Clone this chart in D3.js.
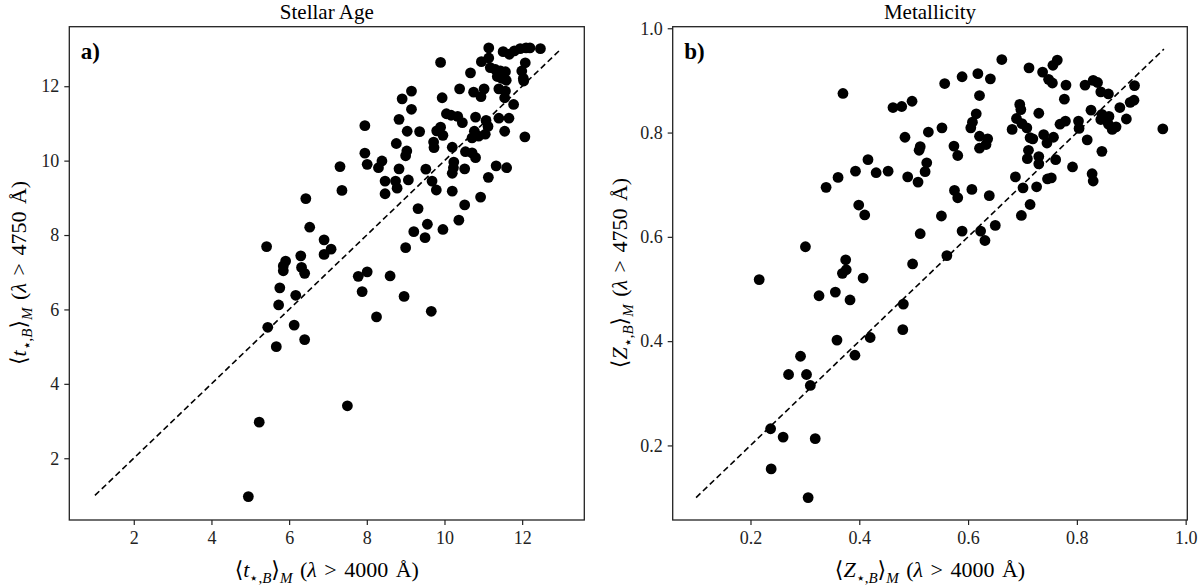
<!DOCTYPE html>
<html>
<head>
<meta charset="utf-8">
<script src="https://cdn.jsdelivr.net/npm/d3@7"></script>
<style>
  body { margin: 0; background: #fff; }
  text { font-family: "Liberation Serif", "DejaVu Serif", serif; }
</style>
</head>
<body>
<div id="wrapper"></div>
<script>
// stellar age, read off panel a)
const ageX = [4.95,5.23,7.50,5.67,6.40,5.45,6.13,8.25,9.66,5.73,8.96,6.17,7.88,5.76,7.78,8.60,6.40,8.01,5.85,6.32,
  5.85,5.91,6.30,6.90,7.08,9.00,5.42,6.90,9.50,9.21,9.96,6.53,9.56,10.37,9.32,10.52,6.43,10.93,8.47,10.20,
  7.36,9.79,8.78,8.47,8.74,9.68,9.07,11.13,10.20,9.52,8.83,10.52,8.30,10.23,11.60,7.31,11.33,8.01,10.24,8.39,
  10.80,9.00,7.95,10.71,10.54,9.03,9.73,10.20,8.76,9.72,10.71,12.07,10.88,9.96,11.05,9.36,9.04,9.80,10.77,11.55,
  9.90,11.12,7.95,10.46,11.07,8.83,11.40,11.66,10.80,10.34,10.17,10.05,9.15,11.78,8.91,9.94,11.55,10.94,10.75,11.57,
  9.15,10.39,11.02,11.40,12.04,11.59,11.48,12.03,11.36,10.67,11.57,11.44,11.99,11.31,11.18,9.90,12.08,10.95,11.14,11.51,
  11.67,11.80,11.95,12.10,12.20,12.47,11.14];
const ageY = [0.97,2.97,3.41,5.00,5.19,5.52,5.58,5.80,5.95,6.12,6.35,6.38,6.48,6.58,6.89,6.90,6.97,7.01,7.04,7.13,
  7.17,7.30,7.44,7.48,7.62,7.66,7.69,7.87,7.93,8.09,8.15,8.21,8.29,8.40,8.71,8.81,8.98,9.02,9.11,9.18,
  9.20,9.21,9.26,9.45,9.45,9.45,9.48,9.55,9.66,9.77,9.78,9.78,9.81,9.81,9.81,9.84,9.86,9.90,9.96,9.99,
  10.08,10.13,10.20,10.21,10.24,10.26,10.35,10.36,10.46,10.50,10.61,10.64,10.66,10.68,10.71,10.78,10.79,10.80,10.79,10.79,
  10.90,10.92,10.94,11.02,11.08,11.11,11.14,11.14,11.17,11.19,11.22,11.26,11.38,11.51,11.66,11.69,11.69,11.72,11.84,11.87,
  11.87,11.93,11.93,11.93,12.14,12.16,12.21,12.21,12.26,12.36,12.39,12.41,12.41,12.45,12.50,12.64,12.63,12.66,12.76,12.93,
  12.86,12.95,13.01,13.03,13.03,13.01,13.03];

// metallicity, read off panel b)
const metX = [0.306,0.238,0.319,0.260,0.237,0.310,0.270,0.303,0.292,0.392,0.359,0.420,0.480,0.481,0.383,0.326,0.356,0.216,0.407,0.369,
  0.376,0.498,0.375,0.561,0.301,0.631,0.512,0.589,0.623,0.650,0.551,0.698,0.410,0.399,0.714,0.581,0.639,0.575,0.607,0.701,
  0.339,0.726,0.508,0.830,0.746,0.753,0.361,0.489,0.687,0.828,0.431,0.521,0.393,0.453,0.792,0.730,0.524,0.416,0.761,0.709,
  0.730,0.581,0.846,0.510,0.711,0.621,0.512,0.574,0.633,0.745,0.819,0.636,0.719,0.714,0.757,0.484,0.621,0.739,0.527,0.681,
  0.865,0.958,0.804,0.552,0.605,0.708,0.872,0.699,0.858,0.779,0.803,0.608,0.769,0.844,0.891,0.689,0.859,0.846,0.615,0.730,
  0.826,0.697,0.879,0.462,0.478,0.695,0.898,0.497,0.905,0.777,0.621,0.370,0.858,0.844,0.906,0.780,0.815,0.755,0.557,0.838,
  0.830,0.748,0.641,0.589,0.618,0.737,0.712,0.756,0.764,0.662];
const metY = [0.100,0.155,0.213,0.216,0.232,0.315,0.336,0.336,0.371,0.373,0.402,0.407,0.422,0.471,0.479,0.487,0.494,0.518,0.521,0.530,
  0.537,0.548,0.556,0.564,0.581,0.593,0.606,0.611,0.611,0.622,0.640,0.641,0.642,0.661,0.662,0.675,0.679,0.689,0.691,0.694,
  0.695,0.696,0.705,0.707,0.711,0.713,0.714,0.715,0.715,0.721,0.723,0.725,0.726,0.726,0.734,0.740,0.742,0.748,0.748,0.750,
  0.754,0.756,0.764,0.766,0.766,0.770,0.773,0.774,0.777,0.780,0.786,0.788,0.788,0.790,0.791,0.791,0.793,0.796,0.801,0.806,
  0.806,0.807,0.808,0.809,0.809,0.809,0.811,0.817,0.816,0.822,0.822,0.820,0.816,0.825,0.826,0.827,0.831,0.835,0.836,0.837,
  0.843,0.844,0.848,0.848,0.850,0.854,0.858,0.860,0.862,0.864,0.871,0.875,0.874,0.878,0.890,0.891,0.891,0.895,0.894,0.896,
  0.900,0.902,0.903,0.907,0.913,0.916,0.924,0.929,0.939,0.940];

const ageTicks = [2, 4, 6, 8, 10, 12];
const metTicks = [0.2, 0.4, 0.6, 0.8, 1.0];
const ageLine = [1, 13];
const metLine = [0.1, 0.96];

const svg = d3.select("#wrapper").append("svg")
    .attr("width", 1200)
    .attr("height", 587);

function mathLabel(sel, v, wl) {
    sel.append("tspan").text("\u27E8");
    sel.append("tspan").style("font-style", "italic").text(v);
    sel.append("tspan").attr("dy", 6).style("font-size", "15px").text("\u22C6,");
    sel.append("tspan").style("font-size", "15px").style("font-style", "italic").text("B");
    sel.append("tspan").attr("dy", -6).text("\u27E9");
    sel.append("tspan").attr("dy", 6).style("font-size", "15px").style("font-style", "italic").text("M");
    sel.append("tspan").attr("dy", -6).text(" (");
    sel.append("tspan").style("font-style", "italic").text("\u03BB");
    sel.append("tspan").text(" > " + wl + " \u00C5)");
}

function buildPanel(opt) {
    const x = d3.scaleLinear().domain(opt.domain).range([opt.left, opt.right]);
    const y = d3.scaleLinear().domain(opt.domain).range([520, 26.7]);
    const g = svg.append("g");

    // diagonal one-to-one line
    g.append("path")
        .attr("d", d3.line().x(d => x(d)).y(d => y(d))(opt.line))
        .attr("fill", "none")
        .attr("stroke", "black")
        .attr("stroke-width", 1.6)
        .attr("stroke-dasharray", "6,3.5");

    g.append("g").selectAll("circle")
        .data(opt.xs)
        .join("circle")
        .attr("cx", d => x(d))
        .attr("cy", (d, i) => y(opt.ys[i]))
        .attr("r", 5.4)
        .attr("fill", "black");

    const xAxis = d3.axisBottom(x).tickValues(opt.ticks).tickSize(5).tickPadding(6).tickFormat(opt.fmt);
    const yAxis = d3.axisLeft(y).tickValues(opt.ticks).tickSize(5).tickPadding(5).tickFormat(opt.fmt);

    const gx = g.append("g").attr("transform", "translate(0,520)").call(xAxis);
    const gy = g.append("g").attr("transform", `translate(${opt.left},0)`).call(yAxis);
    [gx, gy].forEach(a => {
        a.select(".domain").remove();
        a.selectAll("line").attr("stroke", "#222").attr("stroke-width", 1.2);
        a.selectAll("text")
            .style("font-family", "Liberation Serif")
            .style("font-size", "18px")
            .attr("fill", "#222");
    });

    g.append("rect")
        .attr("x", opt.left)
        .attr("y", 26.7)
        .attr("width", opt.right - opt.left)
        .attr("height", 520 - 26.7)
        .attr("fill", "none")
        .attr("stroke", "#222")
        .attr("stroke-width", 1.3);

    const cx = (opt.left + opt.right) / 2;
    g.append("text")
        .attr("x", cx)
        .attr("y", 19)
        .attr("text-anchor", "middle")
        .style("font-size", "21px")
        .text(opt.title);

    g.append("text")
        .attr("x", opt.left + 11.5)
        .attr("y", 59)
        .style("font-size", "23px")
        .style("font-weight", "bold")
        .text(opt.tag);

    const xl = g.append("text")
        .attr("x", cx)
        .attr("y", 577)
        .attr("text-anchor", "middle")
        .style("font-size", "22px")
        .style("word-spacing", "2px");
    mathLabel(xl, opt.v, "4000");

    const yl = g.append("text")
        .attr("text-anchor", "middle")
        .attr("transform", `translate(${opt.ylabX},273)rotate(-90)`)
        .style("font-size", "22px")
        .style("word-spacing", "2px");
    mathLabel(yl, opt.v, "4750");
}

buildPanel({
    left: 69.3, right: 584.3, domain: [0.34, 13.6],
    xs: ageX, ys: ageY, ticks: ageTicks, line: ageLine,
    fmt: d3.format("d"), title: "Stellar Age", tag: "a)", v: "t", ylabX: 26
});

buildPanel({
    left: 672.7, right: 1187.3, domain: [0.057, 1.003],
    xs: metX, ys: metY, ticks: metTicks, line: metLine,
    fmt: d3.format(".1f"), title: "Metallicity", tag: "b)", v: "Z", ylabX: 627
});
</script>
</body>
</html>
